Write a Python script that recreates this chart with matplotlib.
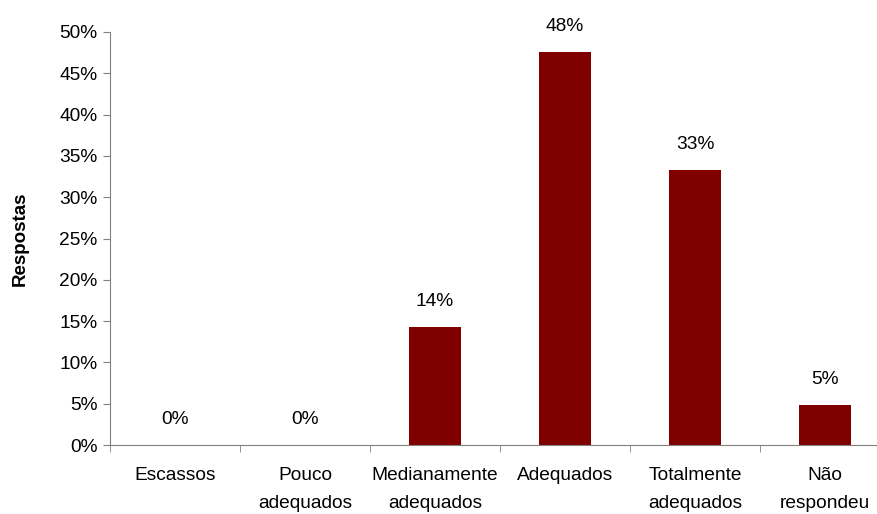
import matplotlib.pyplot as plt
import numpy as np
from matplotlib.ticker import PercentFormatter

categorias = ['Escassos', 'Pouco\nadequados', 'Medianamente\nadequados', 'Adequados',
              'Totalmente\nadequados', 'Não\nrespondeu']
respostas = [0.0, 0.0, 0.143, 0.476, 0.333, 0.048]
rotulos = ['0%', '0%', '14%', '48%', '33%', '5%']

plt.rcParams['font.family'] = ['Liberation Sans', 'DejaVu Sans']
plt.rcParams['font.size'] = 13.8

fig = plt.figure(figsize=(8.77, 5.14), dpi=100)
ax = fig.add_axes([110 / 877, 69 / 514, 780 / 877, 413 / 514])

x = np.arange(len(categorias))
ax.bar(x, respostas, width=0.4, color='#800000')

for xi, v, txt in zip(x, respostas, rotulos):
    ax.annotate(txt, (xi, v), xytext=(0, 18.5), textcoords='offset points',
                ha='center', va='center')

ax.set_xlim(-0.5, len(categorias) - 0.5)
ax.set_ylim(0, 0.5)
ax.set_yticks(np.arange(0, 0.51, 0.05))
ax.yaxis.set_major_formatter(PercentFormatter(1.0, decimals=0))

ax.set_xticks(x)
ax.set_xticklabels(categorias, linespacing=1.8)
ax.set_xticks(np.arange(-0.5, len(categorias), 1.0), minor=True)
ax.tick_params(axis='x', which='major', length=0, pad=16)
ax.tick_params(axis='x', which='minor', length=5, color='#808080')
ax.tick_params(axis='y', length=5, color='#808080', pad=4)

for s in ['top', 'right']:
    ax.spines[s].set_visible(False)
for s in ['left', 'bottom']:
    ax.spines[s].set_color('#808080')

ax.set_ylabel('Respostas', fontweight='bold', fontsize=13.5, labelpad=22)

fig.savefig('out.png', dpi=100)
